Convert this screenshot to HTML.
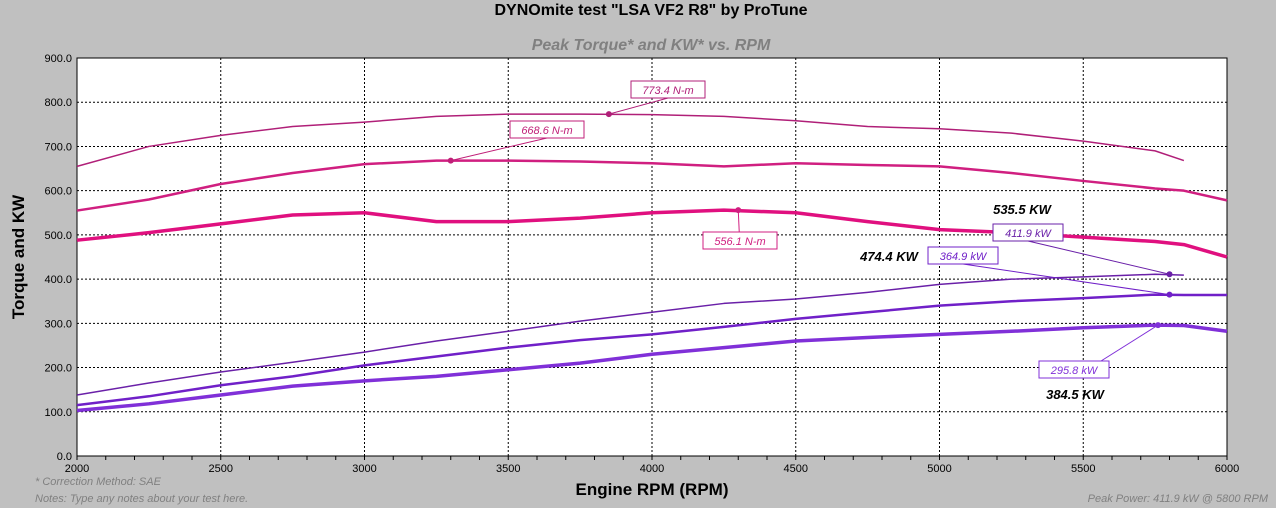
<!DOCTYPE html>
<html><head><meta charset="utf-8"><style>
body{margin:0;background:#c0c0c0;width:1276px;height:508px;overflow:hidden;font-family:"Liberation Sans",sans-serif}
</style></head><body>
<svg id="chart" width="1276" height="508" xmlns="http://www.w3.org/2000/svg" style="display:block">
<rect width="1276" height="508" fill="#c0c0c0"/>
<text x="651" y="15" font-size="16" font-weight="bold" text-anchor="middle" fill="#000">DYNOmite test "LSA VF2 R8" by ProTune</text>
<text x="651" y="50" font-size="16" font-weight="bold" font-style="italic" text-anchor="middle" fill="#808080">Peak Torque* and KW* vs. RPM</text>
<rect x="77" y="58" width="1150" height="398" fill="#fff"/>
<g id="grid"></g><g id="series"></g><g id="ann"></g>
<text transform="translate(24,257) rotate(-90)" font-size="17" font-weight="bold" text-anchor="middle">Torque and KW</text>
<text x="652" y="495" font-size="17" font-weight="bold" text-anchor="middle">Engine RPM (RPM)</text>
<text x="35" y="485" font-size="11" font-style="italic" fill="#808080">* Correction Method: SAE</text>
<text x="35" y="502" font-size="11" font-style="italic" fill="#808080">Notes: Type any notes about your test here.</text>
<text x="1268" y="502" font-size="11" font-style="italic" fill="#808080" text-anchor="end">Peak Power: 411.9 kW @ 5800 RPM</text>
</svg>
<script>
const rpm = [2000,2250,2500,2750,3000,3250,3500,3750,4000,4250,4500,4750,5000,5250,5500,5750,5850,6000];
const torque1 = [655,700,725,745,755,768,773,773,772,768,758,745,740,730,712,690,668,null];
const torque2 = [555,580,615,640,660,668,668,666,662,655,662,658,655,640,622,605,600,578];
const torque3 = [488,505,525,545,550,530,530,538,550,556,550,530,512,505,495,485,478,450];
const power1 = [138,165,190,212,235,260,282,305,325,345,355,370,388,400,405,411,409,null];
const power2 = [115,135,160,180,205,225,245,262,275,292,310,325,340,350,357,365,364,364];
const power3 = [103,118,138,158,170,180,195,210,230,245,260,268,275,282,290,296,295,282];
const xTicks = [2000,2500,3000,3500,4000,4500,5000,5500,6000];
const yTicks = [0,100,200,300,400,500,600,700,800,900];
const NS="http://www.w3.org/2000/svg";
const X=v=>77+(v-2000)/4000*1150, Y=v=>456-v/900*398;
function mk(t,a,p){const e=document.createElementNS(NS,t);for(const k in a)e.setAttribute(k,a[k]);p.appendChild(e);return e;}
const g=document.getElementById('grid');
yTicks.forEach(v=>{
 const l=mk('line',{x1:77,x2:1227,y1:Y(v),y2:Y(v),stroke:'#000','stroke-dasharray':'2,2','stroke-width':1},g);
 
 
 const t=mk('text',{x:72,y:Y(v)+4,'font-size':11,'text-anchor':'end'},g);t.textContent=v.toFixed(1);
 
 
});
xTicks.forEach(v=>{
 const l=mk('line',{x1:X(v),x2:X(v),y1:58,y2:456,stroke:'#000','stroke-dasharray':'2,2','stroke-width':1},g);
 
 
 const t=mk('text',{x:X(v),y:472,'font-size':11,'text-anchor':'middle'},g);t.textContent=v;
 
 
});
for(let r=2000;r<=6000;r+=100){const m=mk('line',{x1:X(r),x2:X(r),y1:456,y2:460,stroke:'#000'},g);
 
 }
mk('rect',{x:77,y:58,width:1150,height:398,fill:'none',stroke:'#000'},g);
const s=document.getElementById('series');
function line(arr,col,w,name){
 const pts=[];arr.forEach((v,i)=>{if(v!=null)pts.push(X(rpm[i])+','+Y(v));});
 const p=mk('polyline',{points:pts.join(' '),fill:'none',stroke:col,'stroke-width':w,'stroke-linejoin':'round'},s);
 
 
}
line(torque1,'#b01f78',1.5,'torque-line-1');
line(torque2,'#d01f80',2.5,'torque-line-2');
line(torque3,'#e0107f',3.5,'torque-line-3');
line(power1,'#6a20a8',1.5,'power-line-1');
line(power2,'#7020c8',2.5,'power-line-2');
line(power3,'#8030d8',3.5,'power-line-3');
const a=document.getElementById('ann');
function box(txt,bx,by,bw,col,tx,ty,name){
 const ln=mk('line',{x1:bx+bw/2,y1:by+17,x2:X(tx),y2:Y(ty),stroke:col,'stroke-width':1},a);
 
 
 const c=mk('circle',{cx:X(tx),cy:Y(ty),r:3,fill:col},a);
 
 
 const r=mk('rect',{x:bx,y:by,width:bw,height:17,fill:'#fff',stroke:col},a);
 
 
 const t=mk('text',{x:bx+bw/2,y:by+13,'font-size':11,'font-style':'italic','text-anchor':'middle',fill:col},a);t.textContent=txt;
 
 
}
box('773.4 N-m',631,81,74,'#b01f78',3850,773,'peak-torque-1');
box('668.6 N-m',510,121,74,'#c01f78',3300,668,'peak-torque-2');
box('556.1 N-m',703,232,74,'#d01f80',4300,556,'peak-torque-3');
box('411.9 kW',993,224,70,'#6a20a8',5800,411,'peak-power-1');
box('364.9 kW',928,247,70,'#7020c8',5800,365,'peak-power-2');
box('295.8 kW',1039,361,70,'#8030d8',5760,296,'peak-power-3');
[['535.5 KW',1022,214],['474.4 KW',889,261],['384.5 KW',1075,399]].forEach(d=>{
 const t=mk('text',{x:d[1],y:d[2],'font-size':13,'font-weight':'bold','font-style':'italic','text-anchor':'middle'},a);t.textContent=d[0];
 
 
});
</script>
</body></html>
